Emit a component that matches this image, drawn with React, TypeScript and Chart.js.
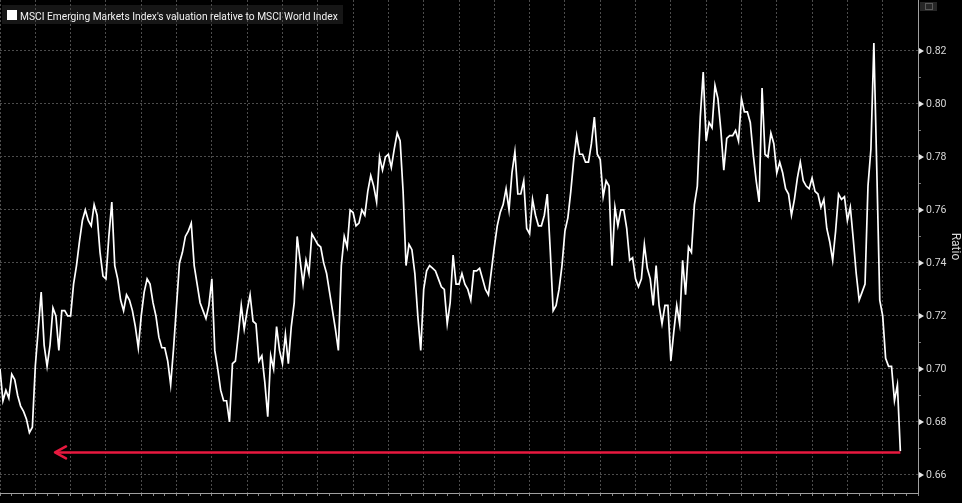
import React, { useEffect, useRef } from 'react';
import { Chart, registerables } from 'chart.js';

Chart.register(...registerables);

// ---- data ----
const SERIES_LABEL = "MSCI Emerging Markets Index's valuation relative to MSCI World Index";
const Y_AXIS_TITLE = 'Ratio';

// one value per month-like step along the x axis
const RATIO_VALUES = [
  0.700, 0.688, 0.692, 0.689, 0.698, 0.696, 0.690, 0.686, 0.684, 0.681,
  0.676, 0.678, 0.701, 0.715, 0.729, 0.709, 0.701, 0.709, 0.723, 0.720,
  0.707, 0.722, 0.722, 0.720, 0.720, 0.732, 0.739, 0.748, 0.756, 0.760,
  0.756, 0.754, 0.762, 0.758, 0.744, 0.735, 0.734, 0.750, 0.763, 0.739,
  0.734, 0.726, 0.722, 0.728, 0.726, 0.722, 0.716, 0.708, 0.720, 0.729,
  0.734, 0.732, 0.725, 0.720, 0.712, 0.708, 0.708, 0.703, 0.694, 0.708,
  0.724, 0.740, 0.744, 0.750, 0.752, 0.755, 0.739, 0.732, 0.725, 0.722,
  0.719, 0.724, 0.734, 0.707, 0.700, 0.692, 0.688, 0.688, 0.680, 0.702,
  0.703, 0.713, 0.724, 0.715, 0.722, 0.728, 0.718, 0.717, 0.703, 0.705,
  0.695, 0.682, 0.705, 0.700, 0.716, 0.707, 0.702, 0.713, 0.702, 0.716,
  0.725, 0.750, 0.741, 0.732, 0.741, 0.736, 0.751, 0.749, 0.747, 0.746,
  0.740, 0.736, 0.729, 0.722, 0.715, 0.707, 0.739, 0.750, 0.746, 0.760,
  0.759, 0.754, 0.755, 0.760, 0.758, 0.767, 0.773, 0.769, 0.763, 0.780,
  0.775, 0.780, 0.781, 0.776, 0.783, 0.789, 0.786, 0.767, 0.739, 0.747,
  0.745, 0.736, 0.720, 0.707, 0.730, 0.737, 0.739, 0.738, 0.737, 0.734,
  0.731, 0.730, 0.717, 0.725, 0.743, 0.732, 0.732, 0.736, 0.732, 0.730,
  0.726, 0.737, 0.737, 0.738, 0.734, 0.730, 0.728, 0.737, 0.746, 0.754,
  0.759, 0.762, 0.768, 0.760, 0.774, 0.782, 0.766, 0.766, 0.771, 0.753,
  0.751, 0.764, 0.758, 0.754, 0.754, 0.758, 0.766, 0.745, 0.722, 0.724,
  0.730, 0.739, 0.752, 0.757, 0.767, 0.779, 0.788, 0.781, 0.781, 0.778,
  0.778, 0.785, 0.795, 0.781, 0.779, 0.765, 0.771, 0.769, 0.739, 0.761,
  0.754, 0.760, 0.760, 0.753, 0.741, 0.742, 0.734, 0.731, 0.734, 0.747,
  0.738, 0.734, 0.724, 0.739, 0.724, 0.717, 0.724, 0.724, 0.703, 0.714,
  0.724, 0.717, 0.741, 0.728, 0.746, 0.744, 0.762, 0.769, 0.795, 0.812,
  0.786, 0.793, 0.791, 0.807, 0.802, 0.790, 0.775, 0.787, 0.788, 0.788,
  0.790, 0.786, 0.802, 0.797, 0.797, 0.793, 0.781, 0.771, 0.763, 0.806,
  0.781, 0.780, 0.789, 0.785, 0.774, 0.778, 0.774, 0.768, 0.766, 0.758,
  0.764, 0.772, 0.778, 0.771, 0.769, 0.768, 0.772, 0.767, 0.766, 0.761,
  0.764, 0.753, 0.748, 0.741, 0.752, 0.766, 0.764, 0.765, 0.756, 0.761,
  0.749, 0.736, 0.726, 0.729, 0.732, 0.769, 0.783, 0.823, 0.775, 0.726,
  0.720, 0.704, 0.701, 0.701, 0.688, 0.694, 0.669,
];

const X_STEPS_TOTAL = 312;   // full width of the time axis
const X_GRID_EVERY = 12;     // dotted vertical grid lines
const X_TICK_EVERY = 4;      // small tick marks on the bottom axis

const Y_TICK_LABELS = [0.66, 0.68, 0.70, 0.72, 0.74, 0.76, 0.78, 0.80, 0.82];
const Y_MINOR_TICKS = [0.67, 0.69, 0.71, 0.73, 0.75, 0.77, 0.79, 0.81];
const Y_MIN = 0.6532;
const Y_MAX = 0.8392;

// red arrow pointing back to the earlier low
const ARROW_LEVEL = 0.6685;
const ARROW_FROM = 306;
const ARROW_TO = 18.7;

const isMajor = (v: number) => Y_TICK_LABELS.some((t) => Math.abs(t - v) < 1e-6);

const zeroPadding = (s: any) => {
  s.paddingTop = 0;
  s.paddingBottom = 0;
  s.paddingLeft = 0;
  s.paddingRight = 0;
};

export default function App() {
  const canvasRef = useRef<HTMLCanvasElement | null>(null);

  useEffect(() => {
    const canvas = canvasRef.current;
    if (!canvas) return;
    Chart.defaults.font.family = 'Roboto, "DejaVu Sans", sans-serif';

    const decor = {
      id: 'decor',
      beforeDraw(chart: any) {
        const { ctx, width, height } = chart;
        ctx.save();
        ctx.fillStyle = '#000000';
        ctx.fillRect(0, 0, width, height);
        // legend panel
        ctx.fillStyle = '#161616';
        ctx.fillRect(2, 5, 341, 19);
        ctx.restore();
      },
      afterDatasetsDraw(chart: any) {
        const { ctx, scales } = chart;
        const px = scales.x.getPixelForValue(ARROW_TO);
        const py = scales.y.getPixelForValue(ARROW_LEVEL);
        ctx.save();
        ctx.strokeStyle = '#e8193f';
        ctx.lineWidth = 2.5;
        ctx.lineCap = 'round';
        ctx.lineJoin = 'round';
        ctx.beginPath();
        ctx.moveTo(px + 11, py - 6);
        ctx.lineTo(px, py);
        ctx.lineTo(px + 11, py + 6);
        ctx.stroke();
        ctx.restore();
      },
      afterDraw(chart: any) {
        const { ctx, scales } = chart;
        const ys = scales.y;
        ctx.save();
        const x0 = ys.left + 1;
        Y_TICK_LABELS.forEach((v) => {
          const y = ys.getPixelForValue(v);
          ctx.fillStyle = '#e6e6e6';
          ctx.beginPath();
          ctx.moveTo(x0, y - 3);
          ctx.lineTo(x0, y + 3);
          ctx.lineTo(x0 + 5, y);
          ctx.closePath();
          ctx.fill();
        });
        Y_MINOR_TICKS.forEach((v) => {
          const y = Math.round(ys.getPixelForValue(v)) + 0.5;
          ctx.strokeStyle = '#777777';
          ctx.lineWidth = 1;
          ctx.beginPath();
          ctx.moveTo(x0, y);
          ctx.lineTo(x0 + 2, y);
          ctx.stroke();
        });
        // legend
        ctx.fillStyle = '#ffffff';
        ctx.fillRect(7, 10, 10, 10);
        ctx.font = '10px Roboto, "DejaVu Sans", sans-serif';
        const w = ctx.measureText(SERIES_LABEL).width;
        const size = Math.min(11, (10 * 318) / w);
        ctx.font = `${size.toFixed(2)}px Roboto, "DejaVu Sans", sans-serif`;
        ctx.fillStyle = '#f2f2f2';
        ctx.textBaseline = 'alphabetic';
        ctx.textAlign = 'left';
        ctx.fillText(SERIES_LABEL, 20, 19.5);
        // small icon top right
        ctx.fillStyle = '#262626';
        ctx.fillRect(920, 2, 17, 9);
        ctx.strokeStyle = '#5a5a5a';
        ctx.lineWidth = 1;
        ctx.strokeRect(925.5, 3.5, 7, 6);
        ctx.restore();
      },
    };

    const chart = new Chart(canvas, {
      type: 'line',
      data: {
        datasets: [
          {
            label: SERIES_LABEL,
            data: RATIO_VALUES.map((v, i) => ({ x: i, y: v })),
            borderColor: '#ffffff',
            borderWidth: 1.7,
            pointRadius: 0,
            tension: 0,
            order: 1,
          },
          {
            label: 'arrow',
            data: [
              { x: ARROW_FROM, y: ARROW_LEVEL },
              { x: ARROW_TO, y: ARROW_LEVEL },
            ],
            borderColor: '#e8193f',
            borderWidth: 2.5,
            pointRadius: 0,
            order: 0,
          },
        ],
      },
      options: {
        animation: false,
        responsive: false,
        events: [],
        layout: { padding: 0 },
        plugins: { legend: { display: false }, tooltip: { enabled: false } },
        scales: {
          x: {
            type: 'linear',
            min: 0,
            max: X_STEPS_TOTAL,
            afterBuildTicks: (s: any) => {
              const t = [];
              for (let v = 0; v <= X_STEPS_TOTAL; v += X_TICK_EVERY) t.push({ value: v });
              s.ticks = t;
            },
            afterFit: (s: any) => {
              s.height = 10;
              zeroPadding(s);
            },
            ticks: { display: false },
            grid: {
              color: (c: any) =>
                c.tick && c.tick.value % X_GRID_EVERY === 0 ? '#4c4c4c' : 'rgba(0,0,0,0)',
              lineWidth: 1,
              drawTicks: true,
              tickLength: 3,
              tickColor: '#8a8a8a',
              tickWidth: 1,
            },
            border: { display: true, color: '#a0a0a0', width: 1, dash: [2, 2] },
          },
          y: {
            type: 'linear',
            position: 'right',
            min: Y_MIN,
            max: Y_MAX,
            afterBuildTicks: (s: any) => {
              s.ticks = [...Y_TICK_LABELS, ...Y_MINOR_TICKS]
                .sort((a, b) => a - b)
                .map((v) => ({ value: v }));
            },
            afterFit: (s: any) => {
              s.width = 44;
              zeroPadding(s);
            },
            ticks: {
              color: '#d8d8d8',
              font: { size: 10.5 },
              padding: 8,
              autoSkip: false,
              callback: (v: any) => (isMajor(Number(v)) ? Number(v).toFixed(2) : ''),
            },
            grid: {
              color: (c: any) => (c.tick && isMajor(c.tick.value) ? '#4c4c4c' : 'rgba(0,0,0,0)'),
              lineWidth: 1,
              drawTicks: false,
            },
            border: { display: true, color: '#a0a0a0', width: 1, dash: [2, 2] },
            title: {
              display: true,
              text: Y_AXIS_TITLE,
              color: '#d8d8d8',
              font: { size: 12 },
              padding: 0,
            },
          },
        },
      },
      plugins: [decor],
    } as any);

    return () => chart.destroy();
  }, []);

  return (
    <div style={{ position: 'fixed', left: 0, top: 0, width: 962, height: 503, background: '#000' }}>
      <canvas ref={canvasRef} width={962} height={503} style={{ display: 'block' }} />
    </div>
  );
}
